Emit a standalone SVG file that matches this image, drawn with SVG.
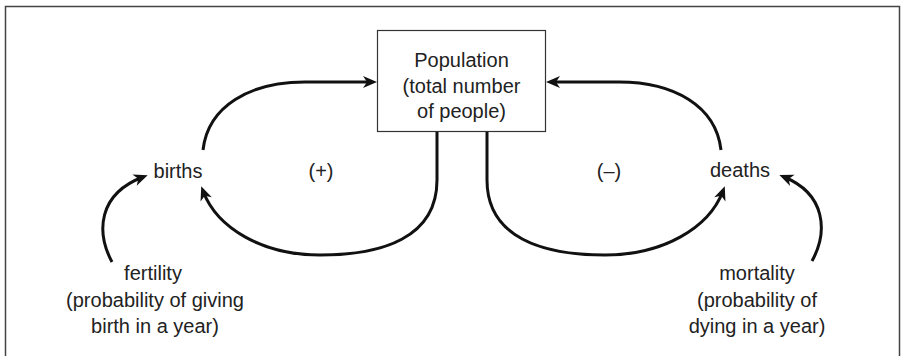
<svg xmlns="http://www.w3.org/2000/svg" width="901" height="356" viewBox="0 0 901 356">
<style>
.t{font-family:"Liberation Sans",Arial,sans-serif;font-size:20px;fill:#222;text-anchor:middle}
.c{fill:none;stroke:#111;stroke-width:3;marker-end:url(#ah)}
.frame{fill:none;stroke:#444;stroke-width:1.5}
</style>
<defs>
<marker id="ah" markerUnits="userSpaceOnUse" markerWidth="30" markerHeight="30" viewBox="-15 -15 30 30" refX="0" refY="0" orient="auto">
<path d="M5,0 L-9,-6 L-5,0 L-9,6 Z" fill="#111"/>
</marker>
</defs>
<path class="frame" d="M5.5,356 L5.5,6.5 L899.5,6.5 L899.5,356" stroke="#888"/>
<g id="population">
<rect x="377.5" y="30.5" width="168" height="101" fill="#fff" stroke="#333" stroke-width="1.2"/>
<text class="t" x="461.5" y="67">Population</text>
<text class="t" x="461.5" y="93">(total number</text>
<text class="t" x="461.5" y="118">of people)</text>
</g>
<g id="births"><text class="t" x="178" y="178">births</text></g>
<g id="deaths"><text class="t" x="740" y="177">deaths</text></g>
<g id="plus"><text class="t" x="321" y="178">(+)</text></g>
<g id="minus"><text class="t" x="609" y="178">(–)</text></g>
<g id="fertility">
<text class="t" x="153" y="280">fertility</text>
<text class="t" x="155" y="307">(probability of giving</text>
<text class="t" x="155" y="333">birth in a year)</text>
</g>
<g id="mortality">
<text class="t" x="757" y="280">mortality</text>
<text class="t" x="757" y="307">(probability of</text>
<text class="t" x="757" y="333">dying in a year)</text>
</g>
<g id="connectors">
<path class="c" d="M203,150 C208,106 250,82 305,82 L372,82"/>
<path class="c" d="M721,150 C716,106 674,82 619,82 L551,82"/>
<path class="c" d="M437,132 L437,180 C437,238 382,255 320,255 C262,255 217,228 203,191"/>
<path class="c" d="M487,132 L487,180 C487,238 543,255 605,255 C663,255 709,228 723,191"/>
<path class="c" d="M112,262 C96,232 98,194 143,177"/>
<path class="c" d="M812,261 C828,232 826,194 784,177"/>
</g>
</svg>
